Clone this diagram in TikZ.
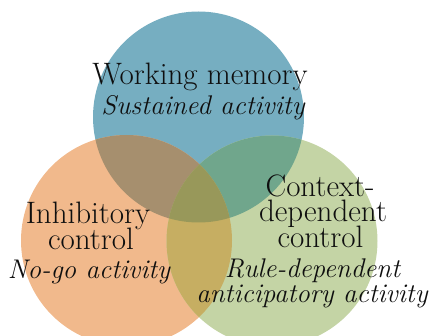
\documentclass[tikz,border=0pt]{standalone}
\usepackage{tikz}

\definecolor{wmblue}{RGB}{118,174,193}
\definecolor{icorange}{RGB}{241,185,140}
\definecolor{cdgreen}{RGB}{196,212,165}
\definecolor{wmic}{RGB}{166,143,110}
\definecolor{wmcd}{RGB}{112,166,140}
\definecolor{iccd}{RGB}{198,174,98}
\definecolor{allthree}{RGB}{152,152,90}
\definecolor{ink}{RGB}{15,15,15}

\begin{document}
\begin{tikzpicture}[x=1pt, y=-1pt]

\tikzstyle{titel}=[inner sep=0pt, anchor=base, text=ink, text depth=1pt, font=\fontsize{31}{32}\selectfont]
\tikzstyle{under}=[inner sep=0pt, anchor=base, text=ink, text depth=1pt, font=\fontsize{27}{30}\selectfont\itshape]

\clip (0,0) rectangle (432,336);

\coordinate (wm) at (198.5,117);
\coordinate (ic) at (126.5,240.5);
\coordinate (cd) at (272,241);
\def\rad{105.5}

% the three circles
\fill[wmblue] (wm) circle (\rad);
\fill[icorange] (ic) circle (\rad);
\fill[cdgreen] (cd) circle (\rad);

% overlaps
\begin{scope}
\clip (wm) circle (\rad);
\fill[wmic] (ic) circle (\rad);
\fill[wmcd] (cd) circle (\rad);
\end{scope}
\begin{scope}
\clip (ic) circle (\rad);
\fill[iccd] (cd) circle (\rad);
\clip (cd) circle (\rad);
\fill[allthree] (wm) circle (\rad);
\end{scope}

% labels
\node[titel] (wm1) at (200,85) {Working memory};
\node[under] (wm2) at (203,115) {Sustained activity};

\node[titel] (ic1) at (88,224) {Inhibitory};
\node[titel] (ic2) at (91,250) {control};
\node[under] (ic3) at (89,279) {No-go activity};

\node[titel] (cd1) at (320,197) {Context-};
\node[titel] (cd2) at (323,222) {dependent};
\node[titel] (cd3) at (320.5,248) {control};
\node[under] (cd4) at (312.5,278) {Rule-dependent};
\node[under] (cd5) at (312,303) {anticipatory activity};

\end{tikzpicture}
\end{document}
